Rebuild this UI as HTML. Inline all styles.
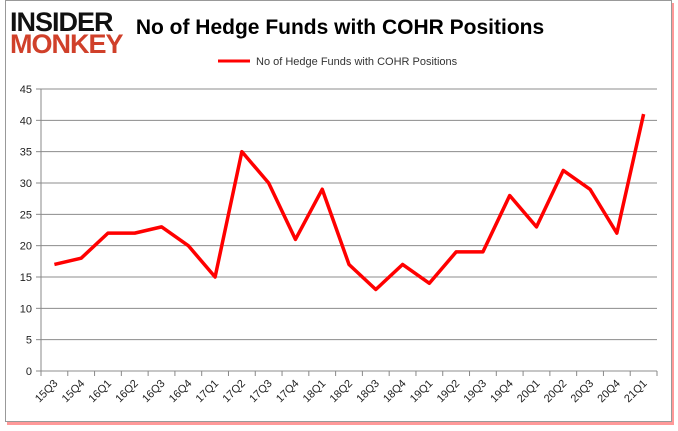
<!DOCTYPE html>
<html><head><meta charset="utf-8"><style>
body{margin:0;background:#fff;}
svg{display:block;font-family:"Liberation Sans",sans-serif;}
</style></head><body>
<svg id="chart" width="678" height="431" viewBox="0 0 678 431">
<rect x="7" y="3" width="667" height="422" fill="#f33" opacity="0.5"/>
<rect x="5.5" y="0.5" width="666" height="421" fill="#fff" stroke="#999"/>
<text x="10" y="31" font-size="27" font-weight="bold" fill="#111" letter-spacing="-1">INSIDER</text>
<text x="10" y="53" font-size="27" font-weight="bold" fill="#d0402a" letter-spacing="-1">MONKEY</text>
<text x="340" y="34" font-size="21" font-weight="bold" text-anchor="middle" fill="#000">No of Hedge Funds with COHR Positions</text>
<line x1="218" y1="61" x2="250" y2="61" stroke="#f00" stroke-width="3"/>
<text x="256" y="65" font-size="11" fill="#333">No of Hedge Funds with COHR Positions</text>
<g id="axes"></g>
<g id="marks"></g>
</svg>
<script>
const categories=["15Q3","15Q4","16Q1","16Q2","16Q3","16Q4","17Q1","17Q2","17Q3","17Q4","18Q1","18Q2","18Q3","18Q4","19Q1","19Q2","19Q3","19Q4","20Q1","20Q2","20Q3","20Q4","21Q1"];
const values=[17,18,22,22,23,20,15,35,30,21,29,17,13,17,14,19,19,28,23,32,29,22,41];
const yTicks=[0,5,10,15,20,25,30,35,40,45];
const NS="http://www.w3.org/2000/svg";
const L=41,R=657,T=89,B=371,YMAX=45;
const bw=(R-L)/categories.length;
const x=i=>L+bw*(i+0.5);
const y=v=>B-(v/YMAX)*(B-T);
const axes=document.getElementById('axes'),marks=document.getElementById('marks');
function mk(tag,attrs,parent){const e=document.createElementNS(NS,tag);for(const k in attrs)e.setAttribute(k,attrs[k]);parent.appendChild(e);return e;}
yTicks.forEach(t=>{
 const g=mk('line',{x1:L,x2:R,y1:y(t),y2:y(t),stroke:'#8c8c8c'},axes);
 
 
 const tk=mk('line',{x1:L-5,x2:L,y1:y(t),y2:y(t),stroke:'#888'},axes);
 
 
 const tx=mk('text',{x:L-9,y:y(t)+4,'font-size':11,'text-anchor':'end',fill:'#222'},axes);
 tx.textContent=t;
 
 
});
const ax=mk('line',{x1:L,x2:L,y1:T,y2:B,stroke:'#888'},axes);


categories.concat([null]).forEach((c,i)=>{
 const tk=mk('line',{x1:L+bw*i,x2:L+bw*i,y1:B,y2:B+5,stroke:'#888'},axes);
 
 
 if(c===null)return;
 const tx=mk('text',{x:x(i)+4,y:B+13,'font-size':11,'text-anchor':'end',fill:'#222',transform:`rotate(-45 ${x(i)+4} ${B+13})`},axes);
 tx.textContent=c;
 
 
});
const p=mk('polyline',{points:values.map((v,i)=>x(i)+','+y(v)).join(' '),fill:'none',stroke:'#f00','stroke-width':3.5,'stroke-linejoin':'round'},marks);


</script>
</body></html>
